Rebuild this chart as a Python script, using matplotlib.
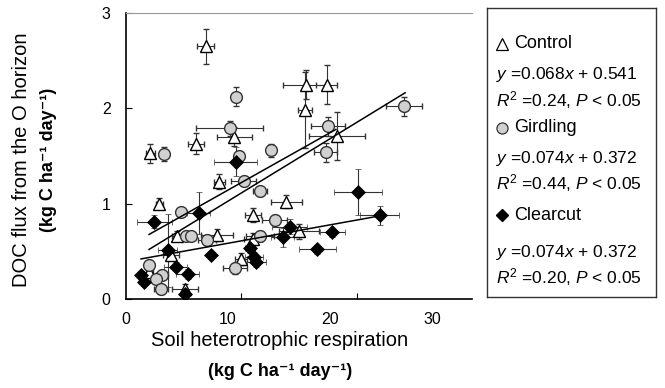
import numpy as np
import matplotlib
matplotlib.use('Agg')
import matplotlib.pyplot as plt

plt.rcParams['font.family'] = ['Liberation Sans', 'DejaVu Sans']
plt.rcParams['mathtext.fontset'] = 'custom'
plt.rcParams['mathtext.rm'] = 'Liberation Sans'
plt.rcParams['mathtext.it'] = 'Liberation Sans:italic'
plt.rcParams['mathtext.bf'] = 'Liberation Sans:bold'

# Control (open triangles)
ctrl_x = [6.9, 15.6, 17.4, 15.5, 18.3, 9.4, 6.1, 2.1, 8.1, 2.9, 13.9, 11.0, 4.45, 7.9, 15.0, 11.0, 3.9, 9.95, 2.0, 5.1]
ctrl_y = [2.65, 2.25, 2.25, 1.98, 1.71, 1.70, 1.63, 1.53, 1.23, 1.00, 1.02, 0.88, 0.66, 0.67, 0.71, 0.63, 0.46, 0.42, 0.28, 0.11]
ctrl_xe = [0.75, 2.0, 0.9, 0.6, 2.4, 1.5, 0.7, 0.4, 0.5, 0.3, 1.35, 0.7, 0.5, 1.4, 1.7, 0.8, 0.7, 0.5, 0.3, 1.1]
ctrl_ye = [0.18, 0.15, 0.2, 0.4, 0.25, 0.1, 0.11, 0.1, 0.08, 0.06, 0.07, 0.07, 0.05, 0.06, 0.08, 0.06, 0.05, 0.06, 0.05, 0.05]

# Girdling (gray circles)
gird_x = [9.5, 9.0, 3.3, 9.8, 12.6, 17.5, 17.3, 24.1, 10.2, 11.6, 4.8, 5.2, 5.6, 7.0, 11.6, 12.9, 9.45, 2.0, 3.1, 2.6, 3.0]
gird_y = [2.12, 1.79, 1.52, 1.50, 1.56, 1.81, 1.54, 2.02, 1.24, 1.13, 0.91, 0.66, 0.66, 0.62, 0.66, 0.83, 0.32, 0.36, 0.25, 0.21, 0.10]
gird_xe = [0.2, 2.9, 0.2, 0.3, 0.3, 1.5, 1.0, 1.6, 1.1, 0.6, 0.4, 0.4, 0.4, 0.8, 1.2, 1.1, 1.0, 0.3, 0.5, 0.3, 0.6]
gird_ye = [0.1, 0.08, 0.07, 0.05, 0.07, 0.1, 0.1, 0.1, 0.05, 0.05, 0.04, 0.04, 0.04, 0.05, 0.05, 0.05, 0.06, 0.05, 0.05, 0.04, 0.05]

# Clearcut (black diamonds)
clr_x = [9.5, 6.3, 2.45, 3.6, 7.4, 4.3, 5.35, 1.3, 1.6, 5.1, 10.75, 11.1, 11.3, 13.6, 14.2, 17.9, 16.6, 20.1, 22.0]
clr_y = [1.44, 0.90, 0.81, 0.51, 0.46, 0.34, 0.26, 0.25, 0.18, 0.05, 0.53, 0.44, 0.39, 0.65, 0.76, 0.70, 0.52, 1.12, 0.88]
clr_xe = [1.85, 1.0, 1.5, 0.8, 0.3, 1.0, 1.0, 0.3, 0.3, 0.3, 0.4, 0.8, 0.8, 1.0, 1.5, 1.1, 1.6, 2.1, 1.7]
clr_ye = [0.15, 0.22, 0.07, 0.38, 0.04, 0.05, 0.05, 0.04, 0.04, 0.04, 0.05, 0.05, 0.05, 0.1, 0.08, 0.05, 0.05, 0.24, 0.1]

# regression lines: slope, intercept, x start, x end
fits = {
    'Control': (0.068, 0.541, 2.0, 18.2),
    'Girdling': (0.074, 0.372, 2.0, 24.2),
    'Clearcut': (0.0218, 0.392, 1.3, 21.9),
}

x_tick_labels = [0, 10, 20, 30]
# the printed x labels in the source sit on a slightly stretched scale
LABEL_STRETCH = 1.13

fig = plt.figure(figsize=(6.65, 3.88), dpi=100)
ax = fig.add_axes([126 / 665, 89 / 388, 346 / 665, 286 / 388])

eb = dict(ecolor='#333333', elinewidth=0.8, capsize=2, capthick=0.8, ls='none', zorder=2)
ax.errorbar(ctrl_x, ctrl_y, xerr=ctrl_xe, yerr=ctrl_ye, marker='^', ms=9,
            mfc='white', mec='black', mew=1.0, **eb)
ax.errorbar(gird_x, gird_y, xerr=gird_xe, yerr=gird_ye, marker='o', ms=8.5,
            mfc='#d0d0d0', mec='#333333', mew=1.0, **eb)
ax.errorbar(clr_x, clr_y, xerr=clr_xe, yerr=clr_ye, marker='D', ms=7,
            mfc='black', mec='black', mew=0.5, **eb)

for name, (m, b, x0, x1) in fits.items():
    xs = np.array([x0, x1])
    ax.plot(xs, m * xs + b, color='black', lw=1.1, zorder=3)

ax.set_xlim(0, 30)
ax.set_ylim(0, 3)
ax.set_xticks([10, 20])
ax.set_yticks([0, 1, 2, 3])
ax.tick_params(axis='x', direction='in', length=4, labelbottom=False)
ax.tick_params(axis='y', direction='in', length=4, labelsize=11.5, pad=11, colors='black')
ax.spines['right'].set_visible(False)
ax.spines['top'].set_color('#999999')
ax.spines['left'].set_linewidth(1.2)
ax.spines['bottom'].set_linewidth(1.2)

sec = ax.secondary_xaxis('bottom', functions=(lambda v: v * LABEL_STRETCH, lambda v: v / LABEL_STRETCH))
sec.set_xticks(x_tick_labels)
sec.tick_params(length=0, labelsize=11.5, pad=9)
sec.spines['bottom'].set_visible(False)

# axis titles
sup = '\u207b\u00b9'
fig.text(280 / 665, 1 - 341 / 388, 'Soil heterotrophic respiration', ha='center', va='center', fontsize=14.5)
fig.text(280 / 665, 1 - 372 / 388, f'(kg C ha{sup} day{sup})', ha='center', va='center',
         fontsize=13, fontweight='bold')
fig.text(22 / 665, 1 - 160 / 388, 'DOC flux from the O horizon', ha='center', va='center',
         rotation=90, fontsize=14.5)
fig.text(49 / 665, 1 - 160 / 388, f'(kg C ha{sup} day{sup})', ha='center', va='center',
         rotation=90, fontsize=13, fontweight='bold')

# legend box
lg = fig.add_axes([487 / 665, 1 - 297 / 388, 169 / 665, 289 / 388])
lg.set_xlim(0, 169)
lg.set_ylim(297, 8)
lg.set_xticks([])
lg.set_yticks([])
for s in lg.spines.values():
    s.set_color('#333333')
    s.set_linewidth(1.0)

mx = 15
tx = 27
fs = 12.5
lg.plot([mx], [44], marker='^', ms=8, mfc='white', mec='black', mew=0.9)
lg.text(tx, 44, 'Control', va='center', fontsize=13)
lg.text(9, 75, '$\\mathit{y}$ =0.068$\\mathit{x}$ + 0.541', va='center', fontsize=fs)
lg.text(9, 100, '$\\mathit{R}^{2}$ =0.24, $\\mathit{P}$ < 0.05', va='center', fontsize=fs)
lg.plot([mx], [128], marker='o', ms=8, mfc='#d0d0d0', mec='#333333', mew=0.9)
lg.text(tx, 128, 'Girdling', va='center', fontsize=13)
lg.text(9, 159, '$\\mathit{y}$ =0.074$\\mathit{x}$ + 0.372', va='center', fontsize=fs)
lg.text(9, 183, '$\\mathit{R}^{2}$ =0.44, $\\mathit{P}$ < 0.05', va='center', fontsize=fs)
lg.plot([mx], [215], marker='D', ms=6.5, mfc='black', mec='black')
lg.text(tx, 215, 'Clearcut', va='center', fontsize=13)
lg.text(9, 253, '$\\mathit{y}$ =0.074$\\mathit{x}$ + 0.372', va='center', fontsize=fs)
lg.text(9, 277, '$\\mathit{R}^{2}$ =0.20, $\\mathit{P}$ < 0.05', va='center', fontsize=fs)

fig.savefig('out.png', dpi=100)
